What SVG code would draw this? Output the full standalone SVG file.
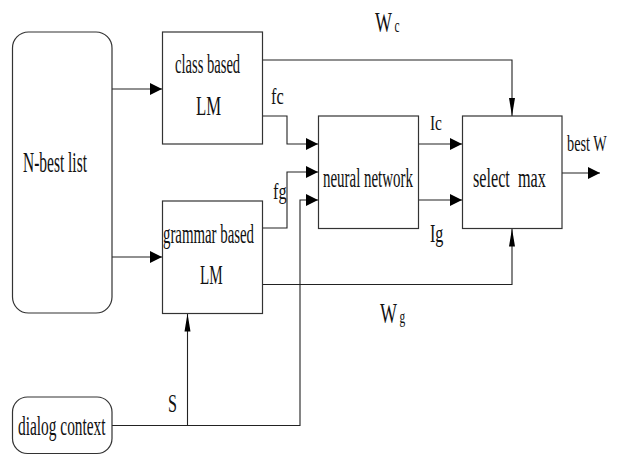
<svg xmlns="http://www.w3.org/2000/svg" width="622" height="458" viewBox="0 0 622 458">
<style>
.box{fill:#fff;stroke:#333;stroke-width:1.2}
.ln{fill:none;stroke:#222;stroke-width:1.1}
text{font-family:"Liberation Serif","Times New Roman",serif;fill:#111;white-space:pre}
</style>
<defs>
<marker id="ah" markerUnits="userSpaceOnUse" markerWidth="12" markerHeight="12" viewBox="0 0 11 11" refX="11" refY="5.5" orient="auto"><path d="M0,0 L11,5.5 L0,11 Z" fill="#000"/></marker>
<marker id="av" markerUnits="userSpaceOnUse" markerWidth="18" markerHeight="7" viewBox="0 0 18 6" refX="18" refY="3" orient="auto"><path d="M0,0 L18,3 L0,6 Z" fill="#000"/></marker>
</defs>
<rect width="622" height="458" fill="#fff"/>
<g id="connectors">
<path class="ln" d="M112 89 H162" marker-end="url(#ah)"/>
<path class="ln" d="M112 257 H162" marker-end="url(#ah)"/>
<path class="ln" d="M262.5 60 H512 V116" marker-end="url(#av)"/>
<path class="ln" d="M262.5 116 H287 V144 H318" marker-end="url(#ah)"/>
<path class="ln" d="M262.5 228 H287 V172 H318" marker-end="url(#ah)"/>
<path class="ln" d="M112 425.5 H300 V200 H318" marker-end="url(#ah)"/>
<path class="ln" d="M187.5 425.5 V313.5" marker-end="url(#av)"/>
<path class="ln" d="M262.5 284.5 H512 V228.5" marker-end="url(#av)"/>
<path class="ln" d="M418.5 144 H462" marker-end="url(#ah)"/>
<path class="ln" d="M418.5 200 H462" marker-end="url(#ah)"/>
<path class="ln" d="M562 173 H600" marker-end="url(#ah)"/>
<text transform="translate(375 32) scale(0.6 1)" font-size="30">W<tspan font-size="19" dx="4">c</tspan></text>
<text transform="translate(380 323) scale(0.6 1)" font-size="30">W<tspan font-size="19" dx="4">g</tspan></text>
<text transform="translate(271 104) scale(0.68 1)" font-size="24">fc</text>
<text transform="translate(273 199) scale(0.68 1)" font-size="24">fg</text>
<text transform="translate(430 130) scale(0.7 1)" font-size="22">Ic</text>
<text transform="translate(430 242) scale(0.62 1)" font-size="26">Ig</text>
<text transform="translate(168 412) scale(0.62 1)" font-size="26">S</text>
<text transform="translate(567 151) scale(0.62 1)" font-size="23">best W</text>
</g>
<g id="nbest">
<rect class="box" x="12.5" y="32" width="99.5" height="281" rx="16"/>
<text transform="translate(23 172) scale(0.515 1)" font-size="30">N-best list</text>
</g>
<g id="classlm">
<rect class="box" x="162.5" y="32" width="100" height="112"/>
<text transform="translate(175 73) scale(0.54 1)" font-size="27">class based</text>
<text transform="translate(196 115) scale(0.62 1)" font-size="27">LM</text>
</g>
<g id="grammarlm">
<rect class="box" x="162.5" y="201" width="100" height="112.5"/>
<text transform="translate(163 243) scale(0.55 1)" font-size="27">grammar based</text>
<text transform="translate(200 284) scale(0.56 1)" font-size="27">LM</text>
</g>
<g id="neural">
<rect class="box" x="318.5" y="116" width="100" height="112.5"/>
<text transform="translate(323 187) scale(0.553 1)" font-size="27">neural network</text>
</g>
<g id="selectmax">
<rect class="box" x="462.5" y="116" width="99.5" height="112.5"/>
<text transform="translate(473 187) scale(0.6 1)" font-size="27">select  max</text>
</g>
<g id="dialog">
<rect class="box" x="12.5" y="397" width="99.5" height="56.5" rx="15"/>
<text transform="translate(18 435) scale(0.57 1)" font-size="27">dialog context</text>
</g>
</svg>
